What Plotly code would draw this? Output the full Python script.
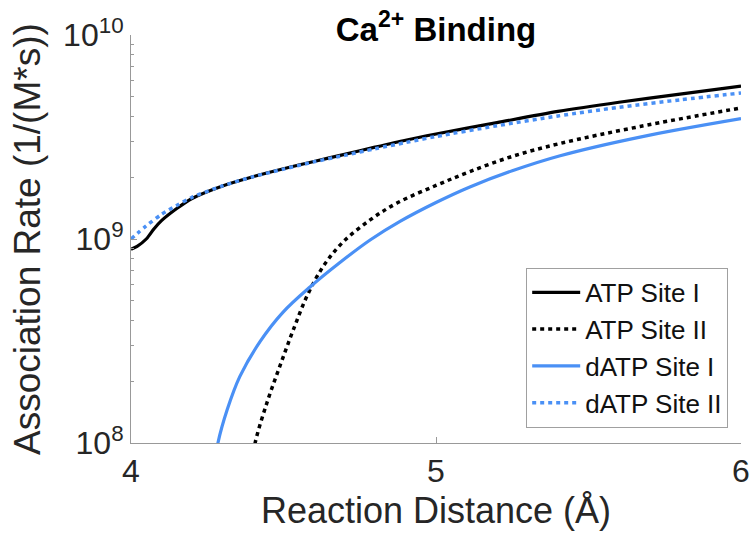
import plotly.graph_objects as go

# ---- data ----
x_atp1 = [4.0, 4.02, 4.05, 4.075, 4.1, 4.15, 4.2, 4.3, 4.4, 4.5, 4.6, 4.7, 4.8, 4.9, 5.0, 5.2, 5.4, 5.6, 5.8, 6.0]
y_atp1 = [8.9e8, 9.2e8, 1.0e9, 1.12e9, 1.23e9, 1.41e9, 1.58e9, 1.82e9, 2.02e9, 2.21e9, 2.40e9, 2.60e9,
          2.82e9, 3.05e9, 3.27e9, 3.72e9, 4.22e9, 4.68e9, 5.13e9, 5.62e9]

x_atp2 = [4.40, 4.407, 4.446, 4.489, 4.531, 4.577, 4.63, 4.695, 4.784, 4.872, 5.0, 5.111, 5.25, 5.407, 5.669, 6.0]
y_atp2 = [8.3e7, 1.0e8, 1.58e8, 2.40e8, 3.55e8, 5.25e8, 7.33e8, 9.66e8, 1.24e9, 1.50e9, 1.83e9, 2.14e9,
          2.54e9, 2.94e9, 3.56e9, 4.39e9]

x_datp1 = [4.278, 4.285, 4.315, 4.357, 4.423, 4.498, 4.587, 4.685, 4.784, 4.882, 5.0, 5.111, 5.25, 5.407, 5.669, 6.0]
y_datp1 = [8.6e7, 1.0e8, 1.45e8, 2.12e8, 3.14e8, 4.37e8, 5.82e8, 7.67e8, 9.89e8, 1.22e9, 1.51e9, 1.80e9,
           2.16e9, 2.56e9, 3.16e9, 3.89e9]

x_datp2 = [4.0, 4.05, 4.1, 4.15, 4.2, 4.3, 4.4, 4.5, 4.6, 4.7, 4.8, 4.9, 5.0, 5.2, 5.4, 5.6, 5.8, 6.0]
y_datp2 = [1.0e9, 1.16e9, 1.32e9, 1.46e9, 1.60e9, 1.82e9, 2.02e9, 2.20e9, 2.39e9, 2.57e9, 2.77e9, 2.97e9,
           3.18e9, 3.59e9, 4.01e9, 4.42e9, 4.81e9, 5.20e9]

series_names = ["ATP Site I", "ATP Site II", "dATP Site I", "dATP Site II"]
x_ticks = [4, 5, 6]
y_ticks = [1e8, 1e9, 1e10]
y_ticktext = ["10<sup>8</sup>", "10<sup>9</sup>", "10<sup>10</sup>"]

BLUE = "#4a90f5"
FONT = "Liberation Sans, Arial, Helvetica, sans-serif"

fig = go.Figure()
fig.add_trace(go.Scatter(x=x_atp1, y=y_atp1, mode="lines", name=series_names[0],
                         line=dict(color="black", width=3.2, shape="spline", smoothing=0.8)))
fig.add_trace(go.Scatter(x=x_atp2, y=y_atp2, mode="lines", name=series_names[1],
                         line=dict(color="black", width=3.5, dash="4px,4px", shape="spline", smoothing=1.0)))
fig.add_trace(go.Scatter(x=x_datp1, y=y_datp1, mode="lines", name=series_names[2],
                         line=dict(color=BLUE, width=3.2, shape="spline", smoothing=1.0)))
fig.add_trace(go.Scatter(x=x_datp2, y=y_datp2, mode="lines", name=series_names[3],
                         line=dict(color=BLUE, width=3.5, dash="4px,4px", shape="spline", smoothing=0.8)))

axis_col = "#999999"
fig.update_layout(
    width=751, height=535,
    margin=dict(l=131, r=10, t=35, b=92),
    paper_bgcolor="white", plot_bgcolor="white",
    font=dict(family=FONT, color="#262626"),
    title=dict(text="<b>Ca<sup>2+</sup> Binding</b>", x=0.5, xref="paper", xanchor="center",
               y=1 - 29 / 535, yanchor="middle", font=dict(size=33, color="black", family=FONT)),
    showlegend=True,
    legend=dict(x=0.979, xanchor="right", y=0.037, yanchor="bottom",
                bgcolor="white", bordercolor="#a0a0a0", borderwidth=1, itemwidth=48,
                font=dict(size=26, color="#111", family=FONT), tracegroupgap=0),
    xaxis=dict(range=[4, 6], tickvals=x_ticks, ticks="inside", ticklen=6, tickcolor=axis_col,
               showline=True, linecolor=axis_col, linewidth=1, showgrid=False, zeroline=False,
               automargin=False,
               tickfont=dict(size=32, color="#262626"),
               title=dict(text="Reaction Distance (Å)", font=dict(size=36, color="#262626"), standoff=9)),
    yaxis=dict(type="log", range=[8, 10], tickvals=y_ticks, ticktext=y_ticktext,
               ticks="inside", ticklen=6, tickcolor=axis_col,
               minor=dict(ticks="inside", ticklen=3, tickcolor=axis_col, dtick="D1", showgrid=False),
               showline=True, linecolor=axis_col, linewidth=1, showgrid=False, zeroline=False,
               automargin=False,
               tickfont=dict(size=32, color="#262626")),
    annotations=[dict(text="Association Rate (1/(M*s))", textangle=-90, showarrow=False,
                      xref="paper", yref="paper", x=0, y=0.5, xanchor="center", yanchor="middle",
                      xshift=-104, font=dict(size=37, color="#262626", family=FONT))],
)

fig.write_html("out.html")
